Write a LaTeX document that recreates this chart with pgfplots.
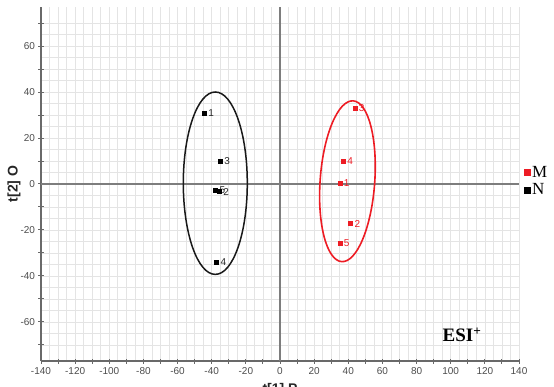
\documentclass[border=0pt]{standalone}
\usepackage{pgfplots}
\pgfplotsset{compat=1.18}
\usepackage{pgfplotstable}
\usepackage{fontspec}
\setmainfont{Liberation Sans}
\newfontfamily\timesfont{Liberation Serif}

\definecolor{mred}{RGB}{237,28,36}
\definecolor{gridgray}{RGB}{228,228,228}
\definecolor{axgray}{RGB}{105,105,105}
\definecolor{zerogray}{RGB}{125,125,125}

% score coordinates t[1], t[2] and sample numbers
\pgfplotstableread{
x y lab
35.1 0.3 1
41.4 -17.2 2
43.9 33.0 3
37.1 9.9 4
35.1 -25.8 5
}\groupM
\pgfplotstableread{
x y lab
-44.3 30.9 1
-35.0 10.0 3
-37.1 -33.9 4
-37.7 -2.6 5
-35.6 -3.3 2
}\groupN

\begin{document}
\begin{tikzpicture}
\begin{axis}[
  at={(41pt,25pt)}, anchor=south west,
  scale only axis, width=478pt, height=354pt,
  xmin=-140, xmax=140, ymin=-77, ymax=77,
  axis x line*=bottom, axis y line*=left,
  axis line style={axgray, line width=1.3pt, -},
  xtick={-140,-130,...,140},
  xticklabels={-140,,-120,,-100,,-80,,-60,,-40,,-20,,0,,20,,40,,60,,80,,100,,120,,140},
  ytick={-70,-60,...,70},
  yticklabels={,-60,,-40,,-20,,0,,20,,40,,60,},
  minor tick num=1, minor tick length=0pt,
  major tick length=5pt, tick align=center,
  tick style={axgray, line width=1pt},
  grid=both,
  major grid style={gridgray, line width=0.7pt},
  minor grid style={gridgray, line width=0.7pt},
  ticklabel style={font=\fontsize{10}{10}\selectfont, text=black!70},
  xlabel={t[1] P}, ylabel={t[2] O},
  xlabel style={at={(axis description cs:0.5,-0.054)}, anchor=north,
    font=\bfseries\fontsize{14}{14}\selectfont, text=black!85},
  ylabel style={at={(axis description cs:-0.0565,0.5)}, anchor=center,
    font=\bfseries\fontsize{14}{14}\selectfont, text=black!85},
  legend style={at={(axis description cs:1,0.508)}, anchor=west, xshift=5pt,
    draw=none, fill=none, inner sep=0pt, row sep=0.5pt,
    font=\timesfont\fontsize{17}{17}\selectfont},
  legend cell align=left,
  legend image code/.code={\draw[mark repeat=2,mark phase=2,#1,mark size=3pt]
    plot coordinates {(0pt,0pt)(8pt,0pt)(16pt,0pt)};},
]
% zero reference lines
\draw[zerogray, line width=1.2pt] (axis cs:0,-77) -- (axis cs:0,77);
\draw[zerogray, line width=1.2pt] (axis cs:-140,0) -- (axis cs:140,0);

\addplot[only marks, mark=square*, mark size=2pt, color=mred,
  nodes near coords, point meta=explicit symbolic,
  nodes near coords style={anchor=west, font=\fontsize{10}{10}\selectfont, text=mred, xshift=0.5pt}]
  table[x=x, y=y, meta=lab]{\groupM};
\addlegendentry{M}

\addplot[only marks, mark=square*, mark size=2pt, color=black,
  nodes near coords, point meta=explicit symbolic,
  nodes near coords style={anchor=west, font=\fontsize{10}{10}\selectfont, text=black!85, xshift=0.5pt}]
  table[x=x, y=y, meta=lab]{\groupN};
\addlegendentry{N}

% confidence ellipses
\draw[mred, line width=1.6pt, rotate around={-4.1:(axis cs:39.5,1.2)}]
  (axis cs:39.5,1.2) ellipse [x radius=27.3pt, y radius=80.6pt];
\draw[black!90, line width=1.5pt]
  (axis cs:-37.9,0.35) ellipse [x radius=32pt, y radius=91.2pt];

\node[font=\timesfont\bfseries\fontsize{19}{19}\selectfont] at (axis cs:106.6,-65.7) {ESI\textsuperscript{+}};
\end{axis}
\pgfresetboundingbox
\path[use as bounding box] (0,0) rectangle (554pt,386pt);
\end{tikzpicture}
\end{document}
